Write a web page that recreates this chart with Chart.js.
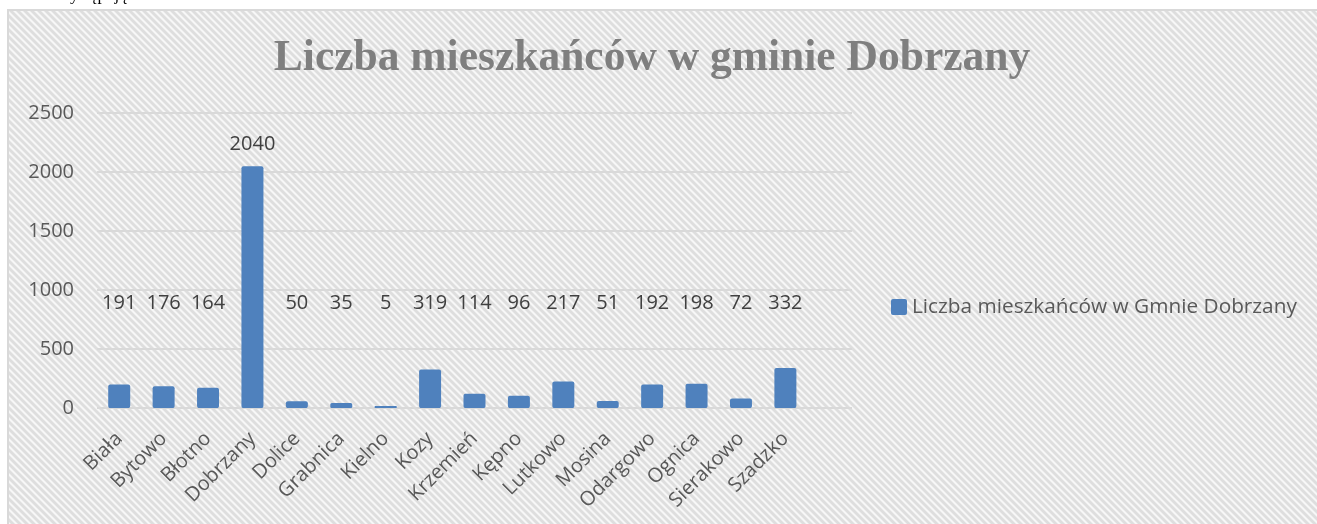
<!DOCTYPE html>
<html lang="pl">
<head>
<meta charset="utf-8">
<title>Liczba mieszkańców w gminie Dobrzany</title>
<script src="https://cdn.jsdelivr.net/npm/chart.js@4"></script>
<style>
  body { margin: 0; background: #fff; overflow: hidden; }
  #doc { position: absolute; left: 55px; top: -14px; font: 17px/17px "Liberation Serif", serif; color: #000; z-index: 2; }
  #wrap { position: absolute; left: 0; top: 0; width: 1317px; height: 524px; }
</style>
</head>
<body>
<div id="doc">Występują</div>
<div id="wrap"><canvas id="chart"></canvas></div>
<script>
'use strict'

// data (last category is Excel's empty slot)
const villages = ['Biała', 'Bytowo', 'Błotno', 'Dobrzany', 'Dolice', 'Grabnica', 'Kielno', 'Kozy',
    'Krzemień', 'Kępno', 'Lutkowo', 'Mosina', 'Odargowo', 'Ognica', 'Sierakowo', 'Szadzko', ''];
const residents = [191, 176, 164, 2040, 50, 35, 5, 319, 114, 96, 217, 51, 192, 198, 72, 332, null];
const yTicks = [0, 500, 1000, 1500, 2000, 2500];

const chartTitle = 'Liczba mieszkańców w gminie Dobrzany';
const seriesName = 'Liczba mieszkańców w Gmnie Dobrzany';
const barColor = '#4f81bd';

/******************     HATCHED BACKGROUND + BORDER    ******************/
const makeHatch = () => {
    const size = 7;
    const c = document.createElement('canvas');
    c.width = size; c.height = size;
    const g = c.getContext('2d');
    g.fillStyle = '#f7f7f7';
    g.fillRect(0, 0, size, size);
    g.strokeStyle = '#dedede';
    g.lineWidth = 2.8;
    for (let o of [-size, 0, size]) {
        g.beginPath();
        g.moveTo(o - 1, -1);
        g.lineTo(o + size + 1, size + 1);
        g.stroke();
    }
    return c;
}

const backdrop = {
    id: 'backdrop',
    beforeDraw(chart) {
        const ctx = chart.ctx;
        ctx.save();
        ctx.fillStyle = '#fff';
        ctx.fillRect(0, 0, chart.width, chart.height);
        ctx.fillStyle = ctx.createPattern(makeHatch(), 'repeat');
        ctx.fillRect(9, 11, chart.width - 9, chart.height - 11);
        ctx.strokeStyle = '#d9d9d9';
        ctx.lineWidth = 2;
        ctx.beginPath();
        ctx.moveTo(8, chart.height);
        ctx.lineTo(8, 10);
        ctx.lineTo(chart.width, 10);
        ctx.stroke();
        ctx.restore();
    }
}

/******************     TITLE + LEGEND (Excel puts them off-centre, so drawn by hand)    ******************/
const titleAndLegend = {
    id: 'titleAndLegend',
    afterDraw(chart) {
        const ctx = chart.ctx;
        ctx.save();
        // title
        ctx.font = 'bold 43.5px "Liberation Serif", serif';
        ctx.fillStyle = '#7f7f7f';
        ctx.textAlign = 'center';
        ctx.textBaseline = 'alphabetic';
        ctx.fillText(chartTitle, 652, 70);
        // legend
        const bx = 891, by = 299;
        ctx.fillStyle = barColor;
        ctx.beginPath();
        ctx.roundRect(bx, by, 16, 16, 2);
        ctx.fill();
        ctx.font = '20.8px "Open Sans"';
        ctx.fillStyle = '#595959';
        ctx.textAlign = 'left';
        ctx.textBaseline = 'middle';
        ctx.fillText(seriesName, bx + 21, by + 8);
        ctx.restore();
    }
}

/******************     VALUE LABELS    ******************/
// Excel had the labels dragged to one row, only the tall bar keeps its label on top
const LABEL_LEVEL = 890;
const valueLabels = {
    id: 'valueLabels',
    afterDatasetsDraw(chart) {
        const ctx = chart.ctx;
        const yScale = chart.scales.y;
        const meta = chart.getDatasetMeta(0);
        ctx.save();
        ctx.font = '20px "Open Sans"';
        ctx.fillStyle = '#404040';
        ctx.textAlign = 'center';
        ctx.textBaseline = 'middle';
        meta.data.forEach((bar, i) => {
            const v = residents[i];
            if (v == null) return;
            const y = v > LABEL_LEVEL ? bar.y - 23 : yScale.getPixelForValue(LABEL_LEVEL);
            ctx.fillText(String(v), bar.x, y);
        });
        ctx.restore();
    }
}

/******************     CHART    ******************/
const ctx = document.getElementById('chart');
const chart = new Chart(ctx, {
    type: 'bar',
    data: {
        labels: villages,
        datasets: [{
            label: seriesName,
            data: residents,
            backgroundColor: barColor,
            borderRadius: 2,
            borderSkipped: false,
            inflateAmount: 1,
            categoryPercentage: 1,
            barPercentage: 0.45
        }]
    },
    options: {
        responsive: true,
        maintainAspectRatio: false,
        animation: false,
        layout: { padding: { left: 28, right: 465, top: 113, bottom: 0 } },
        plugins: {
            title: { display: false },
            legend: { display: false },
            tooltip: { enabled: false }
        },
        scales: {
            x: {
                // rotated first label would otherwise push the bars inwards
                afterFit: (axis) => { axis.paddingLeft = 0; axis.paddingRight = 0; },
                grid: { display: false },
                border: { display: false },
                ticks: {
                    autoSkip: false,
                    minRotation: 45,
                    maxRotation: 45,
                    padding: 11,
                    color: '#595959',
                    font: { family: '"Open Sans"', size: 20 }
                }
            },
            y: {
                min: 0,
                max: 2500,
                afterBuildTicks: (axis) => { axis.ticks = yTicks.map(v => ({ value: v })); },
                afterFit: (axis) => { axis.width = 69; },
                grid: { color: '#d9d9d9', lineWidth: 2, drawTicks: false },
                border: { display: false },
                ticks: {
                    padding: 23,
                    color: '#595959',
                    font: { family: '"Open Sans"', size: 20 },
                    callback: (v) => String(v)
                }
            }
        }
    },
    plugins: [backdrop, valueLabels, titleAndLegend]
});
</script>
</body>
</html>
